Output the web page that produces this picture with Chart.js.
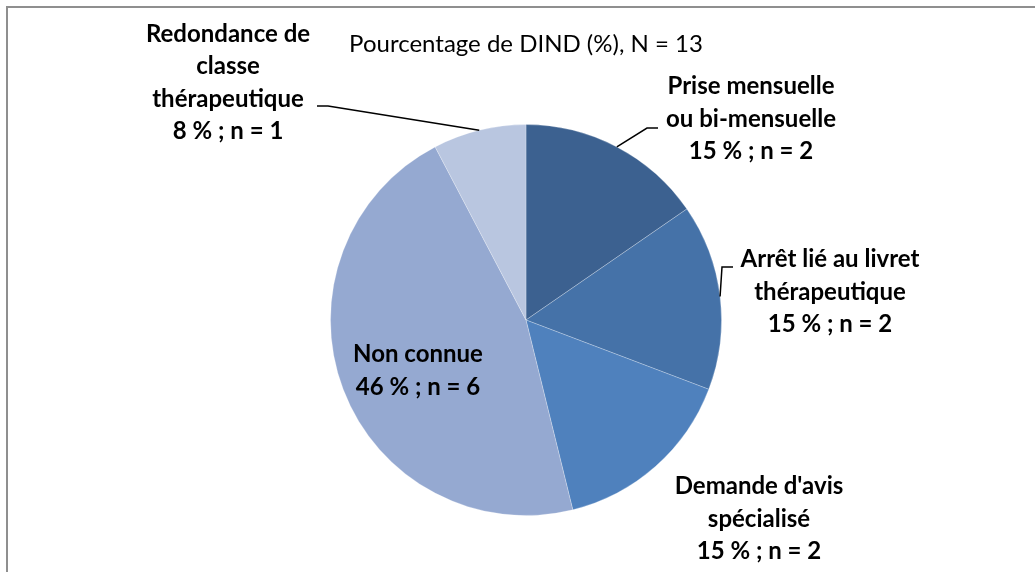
<!DOCTYPE html>
<html>
<head>
<meta charset="utf-8">
<script src="https://cdn.jsdelivr.net/npm/chart.js@4"></script>
<style>
  html, body { margin: 0; padding: 0; background: #fff; overflow: hidden; }
  #wrap { position: relative; width: 1035px; height: 572px; }
  #frame { position: absolute; left: 6px; top: 6px; width: 1100px; height: 700px;
           border-left: 2px solid #8f8f8f; border-top: 2px solid #8f8f8f; }
  canvas { position: absolute; left: 0; top: 0; }
</style>
</head>
<body>
<div id="wrap">
  <div id="frame"></div>
  <canvas id="c" width="1035" height="572"></canvas>
</div>
<script>
// données
const categories = [
  ["Prise mensuelle", "ou bi-mensuelle"],
  ["Arrêt lié au livret", "thérapeutique"],
  ["Demande d'avis", "spécialisé"],
  ["Non connue"],
  ["Redondance de", "classe", "thérapeutique"]
];
const counts = [2, 2, 2, 6, 1];
const colors = ["#3c6190", "#4572a8", "#4f81bd", "#95a9d1", "#b9c6e0"];
const titleText = "Pourcentage de DIND (%), N = 13";

const total = counts.reduce((a, b) => a + b, 0);

// emplacement des étiquettes, relatif au centre du camembert
const labelPos = [
  { dx: 225, dy: -201, hook: [132, -192, 121, -192] },
  { dx: 304, dy: -28, hook: [207, -53, 196, -53] },
  { dx: 233, dy: 199 },
  { dx: -108, dy: 51 },
  { dx: -298, dy: -237, hook: [-209, -214, -198, -214] }
];

const labelsPlugin = {
  id: "labels",
  afterDraw(chart) {
    const ctx = chart.ctx;
    const meta = chart.getDatasetMeta(0);
    const cx = meta.data[0].x, cy = meta.data[0].y;

    ctx.save();
    ctx.fillStyle = "#000";
    ctx.textAlign = "center";
    ctx.textBaseline = "middle";
    ctx.font = "24px Lato";
    ctx.fillText(titleText, 526, 44);

    ctx.font = "bold 24px Lato";
    const lh = 32.5;
    meta.data.forEach((arc, i) => {
      const p = labelPos[i];
      const pct = Math.round(counts[i] / total * 100);
      const lines = categories[i].concat([pct + " % ; n = " + counts[i]]);
      const y0 = cy + p.dy - (lines.length - 1) * lh / 2;
      lines.forEach((t, k) => ctx.fillText(t, cx + p.dx, y0 + k * lh));

      if (p.hook) {
        const mid = (arc.startAngle + arc.endAngle) / 2;
        const ax = arc.x + Math.cos(mid) * arc.outerRadius;
        const ay = arc.y + Math.sin(mid) * arc.outerRadius;
        ctx.strokeStyle = "#000";
        ctx.lineWidth = 1.5;
        ctx.beginPath();
        ctx.moveTo(cx + p.hook[0], cy + p.hook[1]);
        ctx.lineTo(cx + p.hook[2], cy + p.hook[3]);
        ctx.lineTo(ax, ay);
        ctx.stroke();
      }
    });
    ctx.restore();
  }
};

new Chart(document.getElementById("c"), {
  type: "pie",
  data: {
    labels: categories.map(c => c.join(" ")),
    datasets: [{
      data: counts,
      backgroundColor: colors,
      borderColor: "rgba(255,255,255,0.25)",
      borderWidth: 1
    }]
  },
  options: {
    responsive: false,
    animation: false,
    layout: { padding: { left: 330, right: 313, top: 124, bottom: 56 } },
    plugins: {
      legend: { display: false },
      tooltip: { enabled: false }
    }
  },
  plugins: [labelsPlugin]
});
</script>
</body>
</html>
